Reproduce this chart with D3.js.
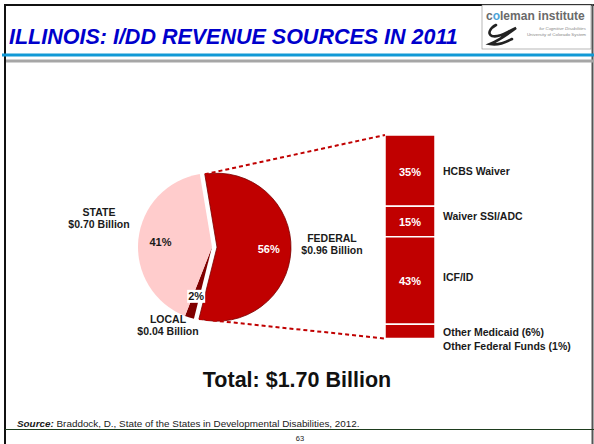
<!DOCTYPE html>
<html>
<head>
<meta charset="utf-8">
<script src="https://cdn.jsdelivr.net/npm/d3@7/dist/d3.min.js"></script>
<style>
  html, body { margin: 0; padding: 0; background: #fff; }
  svg { display: block; font-family: "Liberation Sans", Arial, sans-serif; }
</style>
</head>
<body>
<svg id="chart" width="594" height="444"></svg>
<script>
// Revenue sources (billions of dollars) and their stated shares
const sources = ["FEDERAL", "LOCAL", "STATE"];
const amounts = [0.96, 0.04, 0.70];
const shares = [56, 2, 41];
const sliceColors = ["#c00000", "#800000", "#ffcccc"];

// Breakdown of federal funds (percent of federal)
const federalParts = ["HCBS Waiver", "Waiver SSI/ADC", "ICF/ID", "Other"];
const federalShares = [35, 15, 43, 7];
const otherLines = ["Other Medicaid (6%)", "Other Federal Funds (1%)"];

const totalLabel = "Total: $1.70 Billion";
const titleText = "ILLINOIS: I/DD REVENUE SOURCES IN 2011";
const sourceNote = "Braddock, D., State of the States in Developmental Disabilities, 2012.";
const pageNumber = "63";

const svg = d3.select("#chart");
const W = 594, H = 444;
const ink = "#1a1a1a";

svg.append("rect").attr("width", W).attr("height", H).attr("fill", "#fff");

// ---- slide frame and header rules ----
svg.append("line").attr("x1", 5).attr("x2", W).attr("y1", 5).attr("y2", 5)
  .attr("stroke", "#111").attr("stroke-width", 2);
svg.append("line").attr("x1", 5).attr("x2", 5).attr("y1", 4).attr("y2", H)
  .attr("stroke", "#111").attr("stroke-width", 2);
svg.append("line").attr("x1", 592.5).attr("x2", 592.5).attr("y1", 4).attr("y2", H)
  .attr("stroke", "#555").attr("stroke-width", 2);
svg.append("line").attr("x1", 2).attr("x2", W).attr("y1", 55).attr("y2", 55)
  .attr("stroke", "#1199d6").attr("stroke-width", 3);
svg.append("line").attr("x1", 6).attr("x2", W).attr("y1", 61).attr("y2", 61)
  .attr("stroke", "#a6a6a6").attr("stroke-width", 3);
svg.append("line").attr("x1", 5).attr("x2", W).attr("y1", 429.5).attr("y2", 429.5)
  .attr("stroke", "#1e3d1e").attr("stroke-width", 1.2);

// ---- title ----
svg.append("text")
  .attr("x", 9).attr("y", 44)
  .attr("font-size", 21.5).attr("font-weight", "bold").attr("font-style", "italic")
  .attr("fill", "#0000cc")
  .text(titleText);

// ---- institute logo ----
const logo = svg.append("g");
logo.append("rect").attr("x", 482).attr("y", 5).attr("width", 109).attr("height", 44)
  .attr("fill", "#fff").attr("stroke", "#888").attr("stroke-width", 0.6);
const logoText = logo.append("text").attr("x", 486).attr("y", 20)
  .attr("font-size", 12).attr("font-weight", "bold").attr("fill", "#6a6a6a");
logoText.append("tspan").text("c");
logoText.append("tspan").attr("fill", "#4aa3d8").text("o");
logoText.append("tspan").text("leman institute");
logo.append("text").attr("x", 586).attr("y", 30).attr("text-anchor", "end")
  .attr("font-size", 4.4).attr("font-style", "italic").attr("fill", "#888")
  .text("for Cognitive Disabilities");
logo.append("text").attr("x", 586).attr("y", 36).attr("text-anchor", "end")
  .attr("font-size", 4.4).attr("fill", "#888")
  .text("University of Colorado System");
logo.append("path")
  .attr("d", "M496,25 C490,28 487,34 492,36 C500,38 508,31 516,28 C508,34 500,40 490,44 C500,46 508,41 512,39")
  .attr("fill", "none").attr("stroke", "#222").attr("stroke-width", 2.6).attr("stroke-linecap", "round");

// ---- pie of revenue sources ----
const cx = 212, cy = 247, R = 74;
const a0 = -9.5 * Math.PI / 180;
const pie = d3.pie().sort(null).value(d => d)
  .startAngle(a0).endAngle(a0 + 2 * Math.PI);
const arcs = pie(shares);
const arc = d3.arc().innerRadius(0).outerRadius(R);
const labelArc = d3.arc().innerRadius(R * 0.7).outerRadius(R * 0.7);
const explode = 5;

const offset = d => {
  if (d.index !== 0) return [0, 0];
  const m = (d.startAngle + d.endAngle) / 2;
  return [explode * Math.sin(m), -explode * Math.cos(m)];
};

const pieG = svg.append("g").attr("transform", `translate(${cx},${cy})`);
pieG.selectAll("path.slice").data(arcs).join("path")
  .attr("class", "slice")
  .attr("transform", d => `translate(${offset(d)})`)
  .attr("d", arc)
  .attr("fill", (d, i) => sliceColors[i])
  .attr("stroke", (d, i) => i === 0 ? "#7a0000" : "none")
  .attr("stroke-width", 0.8)
  .attr("stroke-linejoin", "round");

// percent labels inside the slices, drawn above every slice
arcs.forEach((d, i) => {
  const [ox, oy] = offset(d);
  const [x0, y0] = labelArc.centroid(d);
  const x = x0 + ox, yy = y0 + oy;
  if (i === 1) {
    pieG.append("rect").attr("x", x - 9).attr("y", yy - 6.5)
      .attr("width", 18).attr("height", 13).attr("fill", "#fff");
  }
  pieG.append("text")
    .attr("x", x).attr("y", yy).attr("dy", "0.36em")
    .attr("text-anchor", "middle")
    .attr("font-size", 11).attr("font-weight", "bold")
    .attr("fill", i === 0 ? "#fff" : ink)
    .text(shares[i] + "%");
});

// slice name + amount labels outside the pie
const outer = [
  { i: 2, x: cx - 113, y: cy - 31 },
  { i: 0, x: cx + 120, y: cy - 5 },
  { i: 1, x: cx - 44, y: cy + 76 }
];
outer.forEach(o => {
  const t = svg.append("text").attr("text-anchor", "middle")
    .attr("font-size", 10.5).attr("font-weight", "bold").attr("fill", ink);
  t.append("tspan").attr("x", o.x).attr("y", o.y).text(sources[o.i]);
  t.append("tspan").attr("x", o.x).attr("y", o.y + 12)
    .text("$" + amounts[o.i].toFixed(2) + " Billion");
});

// ---- stacked bar of federal funds ----
const barX = 385, barW = 50;
const y = d3.scaleLinear().domain([0, d3.sum(federalShares)]).range([135, 338.5]);
let acc = 0;
const segs = federalShares.map((v, i) => {
  const s = { name: federalParts[i], value: v, y0: acc, y1: acc + v };
  acc += v;
  return s;
});

const barG = svg.append("g");
barG.selectAll("rect").data(segs).join("rect")
  .attr("x", barX).attr("width", barW)
  .attr("y", d => y(d.y0))
  .attr("height", d => y(d.y1) - y(d.y0))
  .attr("fill", "#c00000")
  .attr("stroke", "#fff").attr("stroke-width", 1.5);

barG.selectAll("text.pct").data(segs.filter(d => d.value >= 10)).join("text")
  .attr("class", "pct")
  .attr("x", barX + barW / 2)
  .attr("y", d => (y(d.y0) + y(d.y1)) / 2 + 1)
  .attr("dy", "0.36em")
  .attr("text-anchor", "middle")
  .attr("font-size", 11).attr("font-weight", "bold").attr("fill", "#fff")
  .text(d => d.value + "%");

const nudge = { "HCBS Waiver": 1, "Waiver SSI/ADC": -5, "ICF/ID": -3 };
barG.selectAll("text.name").data(segs.filter(d => d.name !== "Other")).join("text")
  .attr("class", "name")
  .attr("x", barX + barW + 8)
  .attr("y", d => (y(d.y0) + y(d.y1)) / 2 + nudge[d.name])
  .attr("dy", "0.36em")
  .attr("font-size", 10.5).attr("font-weight", "bold").attr("fill", ink)
  .text(d => d.name);

const otherSeg = segs[segs.length - 1];
const otherText = barG.append("text")
  .attr("font-size", 10.5).attr("font-weight", "bold").attr("fill", ink);
otherLines.forEach((line, k) => {
  otherText.append("tspan")
    .attr("x", barX + barW + 8)
    .attr("y", (y(otherSeg.y0) + y(otherSeg.y1)) / 2 + 5 + k * 14)
    .text(line);
});

// ---- dashed connectors from the federal slice to the bar ----
const fed = arcs[0];
const [fox, foy] = offset(fed);
const corner = a => [cx + fox + R * Math.sin(a), cy + foy - R * Math.cos(a)];
const topC = corner(fed.startAngle), botC = corner(fed.endAngle);
[[topC, [barX, y(0)]], [botC, [barX, y(d3.sum(federalShares))]]].forEach(([p, q]) => {
  svg.append("line")
    .attr("x1", p[0]).attr("y1", p[1]).attr("x2", q[0]).attr("y2", q[1])
    .attr("stroke", "#c00000").attr("stroke-width", 2)
    .attr("stroke-dasharray", "4,3");
});

// ---- total and footnote ----
svg.append("text")
  .attr("x", 297).attr("y", 387)
  .attr("text-anchor", "middle")
  .attr("font-size", 21.5).attr("font-weight", "bold").attr("fill", "#111")
  .text(totalLabel);

const src = svg.append("text").attr("x", 17).attr("y", 427)
  .attr("font-size", 9.9).attr("fill", ink);
src.append("tspan").attr("font-weight", "bold").attr("font-style", "italic").text("Source:");
src.append("tspan").text(" " + sourceNote);

svg.append("text")
  .attr("x", 300).attr("y", 441)
  .attr("text-anchor", "middle")
  .attr("font-size", 7.5).attr("fill", "#222")
  .text(pageNumber);
</script>
</body>
</html>
